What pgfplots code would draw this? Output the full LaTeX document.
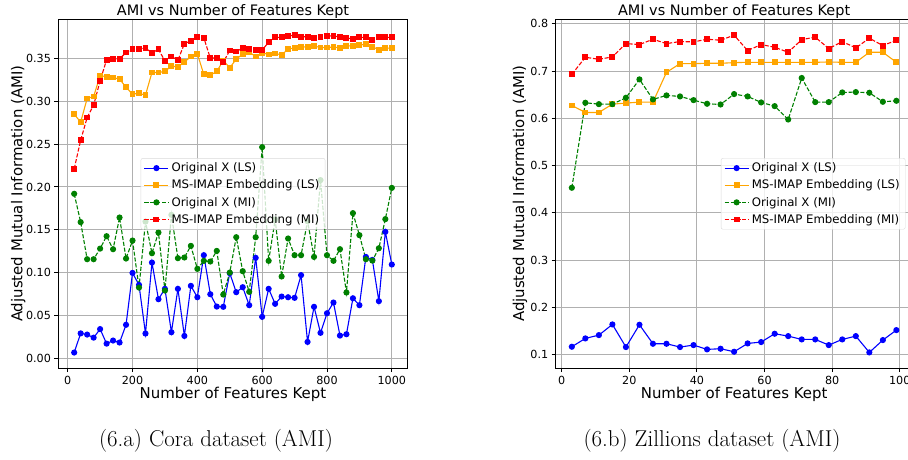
\documentclass[border=0pt]{standalone}
\usepackage{fontspec}
\usepackage{pgfplots}
\usepackage{pgfplotstable}
\pgfplotsset{compat=1.18}
\newfontfamily\dejavu{DejaVu Sans}

\definecolor{mplblue}{RGB}{0,0,255}
\definecolor{mplorange}{RGB}{255,165,0}
\definecolor{mplgreen}{RGB}{0,128,0}
\definecolor{mplred}{RGB}{255,0,0}
\definecolor{gridgray}{RGB}{176,176,176}

% Cora: x, Original X (LS), MS-IMAP (LS), Original X (MI), MS-IMAP (MI)
\pgfplotstableread{
x    ols    mls    omi    mmi
20   0.0066 0.2850 0.1920 0.2211
40   0.0290 0.2757 0.1589 0.2546
60   0.0276 0.3033 0.1156 0.2811
80   0.0240 0.3056 0.1156 0.2955
100  0.0340 0.3302 0.1280 0.3239
120  0.0170 0.3286 0.1425 0.3485
140  0.0206 0.3278 0.1273 0.3496
160  0.0183 0.3259 0.1643 0.3496
180  0.0390 0.3165 0.1164 0.3570
200  0.0996 0.3083 0.1374 0.3606
220  0.0856 0.3095 0.0825 0.3614
240  0.0288 0.3072 0.1596 0.3621
260  0.1117 0.3337 0.1226 0.3567
280  0.0689 0.3337 0.1468 0.3606
300  0.0810 0.3349 0.0790 0.3473
320  0.0303 0.3411 0.1674 0.3524
340  0.0810 0.3403 0.1168 0.3481
360  0.0260 0.3457 0.1176 0.3672
380  0.0845 0.3524 0.1312 0.3707
400  0.0712 0.3555 0.1043 0.3750
420  0.1203 0.3314 0.1137 0.3742
440  0.0747 0.3306 0.1129 0.3504
460  0.0603 0.3349 0.1253 0.3508
480  0.0600 0.3477 0.0743 0.3457
500  0.0993 0.3391 0.1000 0.3594
520  0.0771 0.3493 0.1413 0.3582
540  0.0829 0.3551 0.1016 0.3621
560  0.0619 0.3574 0.0775 0.3606
580  0.1172 0.3524 0.1413 0.3602
600  0.0483 0.3567 0.2465 0.3598
620  0.0810 0.3547 0.1137 0.3691
640  0.0635 0.3559 0.1620 0.3746
660  0.0720 0.3543 0.0954 0.3746
680  0.0712 0.3610 0.1398 0.3762
700  0.0705 0.3625 0.1203 0.3773
720  0.0970 0.3633 0.1203 0.3754
740  0.0190 0.3637 0.1600 0.3754
760  0.0600 0.3645 0.1183 0.3742
780  0.0296 0.3629 0.2080 0.3754
800  0.0525 0.3629 0.1203 0.3762
820  0.0650 0.3633 0.1137 0.3765
840  0.0264 0.3625 0.1273 0.3750
860  0.0280 0.3645 0.0767 0.3738
880  0.0700 0.3649 0.1694 0.3731
900  0.0619 0.3656 0.1437 0.3746
920  0.1183 0.3668 0.1156 0.3746
940  0.1148 0.3637 0.1140 0.3719
960  0.0666 0.3602 0.1284 0.3746
980  0.1476 0.3621 0.1624 0.3746
1000 0.1094 0.3621 0.1989 0.3746
}\cora

% Zillions
\pgfplotstableread{
x   ols    mls    omi    mmi
3   0.1169 0.6273 0.4532 0.6931
7   0.1345 0.6125 0.6330 0.7292
11  0.1415 0.6125 0.6301 0.7250
15  0.1641 0.6301 0.6301 0.7300
19  0.1162 0.6323 0.6436 0.7582
23  0.1634 0.6344 0.6825 0.7561
27  0.1232 0.6344 0.6401 0.7674
31  0.1232 0.6974 0.6486 0.7582
35  0.1162 0.7158 0.6464 0.7625
39  0.1204 0.7158 0.6386 0.7618
43  0.1113 0.7165 0.6309 0.7674
47  0.1127 0.7165 0.6294 0.7653
51  0.1063 0.7179 0.6514 0.7760
55  0.1239 0.7186 0.6464 0.7434
59  0.1268 0.7186 0.6337 0.7561
63  0.1444 0.7186 0.6259 0.7505
67  0.1394 0.7186 0.5976 0.7398
71  0.1324 0.7186 0.6854 0.7667
75  0.1324 0.7186 0.6344 0.7717
79  0.1204 0.7193 0.6344 0.7476
83  0.1324 0.7186 0.6549 0.7625
87  0.1394 0.7186 0.6556 0.7490
91  0.1049 0.7398 0.6542 0.7696
95  0.1310 0.7398 0.6351 0.7540
99  0.1521 0.7186 0.6372 0.7653
}\zillions

\pgfplotsset{
  amibase/.style={
    scale only axis, height=349bp,
    axis line style={black, line width=0.9bp},
    grid=major, major grid style={gridgray, line width=0.9bp},
    tick align=outside, xtick pos=bottom, ytick pos=left,
    major tick length=3.9bp, tick style={black, line width=0.9bp},
    tick label style={font=\dejavu\fontsize{11.2}{13}\selectfont},
    /pgf/number format/assume math mode=true,
    /pgf/number format/set thousands separator={},
    title={AMI vs Number of Features Kept},
    title style={font=\dejavu\fontsize{14.5}{17}\selectfont,
      at={(axis description cs:0.5,1)}, anchor=base, yshift=-1.7bp},
    xlabel={Number of Features Kept},
    ylabel={Adjusted Mutual Information (AMI)},
    label style={font=\dejavu\fontsize{15}{18}\selectfont},
    xlabel style={at={(axis description cs:0.5,0)}, anchor=base, yshift=-30.7bp},
    legend cell align=left,
    legend style={font=\dejavu\fontsize{11.8}{13}\selectfont, draw=gray!30,
      rounded corners=2bp, fill=white, fill opacity=0.8, text opacity=1,
      row sep=1.5bp, nodes={inner sep=2.6bp}},
    legend image code/.code={\draw[mark repeat=2,mark phase=2,fill opacity=1]
      plot coordinates {(0bp,0bp) (12bp,0bp) (24bp,0bp)};},
  },
  ols/.style={mplblue, line width=1.1bp, mark=*, mark size=2.5bp,
    mark options={solid, fill=mplblue}},
  mls/.style={mplorange, line width=1.1bp, mark=square*, mark size=2.4bp,
    mark options={solid, fill=mplorange}},
  omi/.style={mplgreen, line width=1.1bp, dash pattern=on 4.1bp off 1.8bp,
    mark=*, mark size=2.5bp, mark options={solid, fill=mplgreen}},
  mmi/.style={mplred, line width=1.1bp, dash pattern=on 4.1bp off 1.8bp,
    mark=square*, mark size=2.4bp, mark options={solid, fill=mplred}},
}

\begin{document}
\begin{tikzpicture}

% (6.a) Cora
\begin{axis}[amibase,
  at={(58.3bp,91.7bp)}, anchor=south west, width=349.4bp,
  xmin=-29, xmax=1049, ymin=-0.0118, ymax=0.3958,
  xtick={0,200,...,1000},
  ytick={0,0.05,...,0.351},
  yticklabel style={/pgf/number format/fixed, /pgf/number format/fixed zerofill,
    /pgf/number format/precision=2},
  ylabel style={at={(axis description cs:0,0.5)}, anchor=base, yshift=36bp},
  legend style={at={(0.5,0.5)}, anchor=center},
]
\addplot[ols] table[x=x,y=ols] {\cora};
\addplot[mls] table[x=x,y=mls] {\cora};
\addplot[omi] table[x=x,y=omi] {\cora};
\addplot[mmi] table[x=x,y=mmi] {\cora};
\legend{Original X (LS),MS-IMAP Embedding (LS),Original X (MI),MS-IMAP Embedding (MI)}
\end{axis}

% (6.b) Zillions
\begin{axis}[amibase,
  at={(555.6bp,91.7bp)}, anchor=south west, width=357bp,
  xmin=-1.8, xmax=103.8, ymin=0.0713, ymax=0.8096,
  xtick={0,20,...,100},
  ytick={0.1,0.2,...,0.81},
  yticklabel style={/pgf/number format/fixed, /pgf/number format/fixed zerofill,
    /pgf/number format/precision=1},
  ylabel style={at={(axis description cs:0,0.5)}, anchor=base, yshift=31.6bp},
  legend style={at={(0.98,0.5)}, anchor=east},
]
\addplot[ols] table[x=x,y=ols] {\zillions};
\addplot[mls] table[x=x,y=mls] {\zillions};
\addplot[omi] table[x=x,y=omi] {\zillions};
\addplot[mmi] table[x=x,y=mmi] {\zillions};
\legend{Original X (LS),MS-IMAP Embedding (LS),Original X (MI),MS-IMAP Embedding (MI)}
\end{axis}

\node[anchor=base, font=\fontsize{23}{27}\selectfont] at (216bp,14bp) {(6.a) Cora dataset (AMI)};
\node[anchor=base, font=\fontsize{23}{27}\selectfont] at (712bp,14bp) {(6.b) Zillions dataset (AMI)};

\pgfresetboundingbox
\path[use as bounding box] (0bp,0bp) rectangle (908bp,460bp);
\end{tikzpicture}
\end{document}
